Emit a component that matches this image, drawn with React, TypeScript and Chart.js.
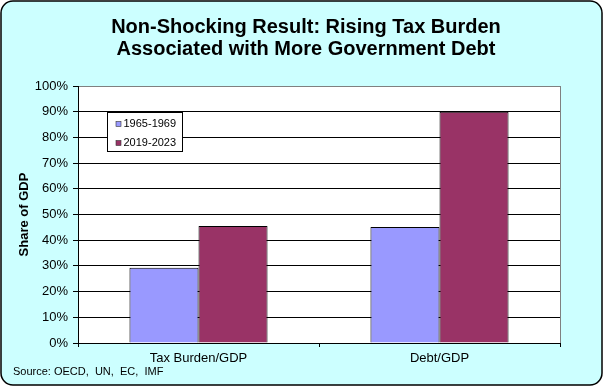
import React, { useEffect, useRef } from "react";
import { Chart, registerables } from "chart.js";

Chart.register(...registerables);

const categories = ["Tax Burden/GDP", "Debt/GDP"];
const seriesLabels = ["1965-1969", "2019-2023"];
const values1965 = [29.3, 45.1];
const values2019 = [45.5, 90];
const titleLines = ["Non-Shocking Result: Rising Tax Burden", "Associated with More Government Debt"];
const yAxisTitle = "Share of GDP";
const sourceText = "Source: OECD,  UN,  EC,  IMF";
const colors = ["#9999FF", "#993366"];

const FONT = "'Liberation Sans', Arial, sans-serif";

const decorPlugin = {
  id: "decor",
  beforeDraw(chart: any) {
    const { ctx, chartArea } = chart;
    const W = chart.width;
    const H = chart.height;
    ctx.save();
    ctx.fillStyle = "#ffffff";
    ctx.fillRect(0, 0, W, H);
    ctx.beginPath();
    ctx.roundRect(1, 1, W - 3, H - 3, 12);
    ctx.fillStyle = "#CCFFFF";
    ctx.fill();
    ctx.lineWidth = 1.5;
    ctx.strokeStyle = "#000000";
    ctx.stroke();
    // plot area
    ctx.fillStyle = "#ffffff";
    ctx.fillRect(chartArea.left, chartArea.top, chartArea.right - chartArea.left, chartArea.bottom - chartArea.top);
    ctx.strokeStyle = "#808080";
    ctx.lineWidth = 1;
    ctx.strokeRect(
      Math.round(chartArea.left) + 0.5,
      Math.round(chartArea.top) + 0.5,
      Math.round(chartArea.right - chartArea.left),
      Math.round(chartArea.bottom - chartArea.top)
    );
    ctx.restore();
  },
  afterDraw(chart: any) {
    const { ctx, chartArea } = chart;
    ctx.save();
    // legend
    const lx = Math.round(chartArea.left + 29) + 0.5;
    const ly = Math.round(chartArea.top + 26) + 0.5;
    const lw = 75;
    const lh = 39;
    ctx.fillStyle = "#ffffff";
    ctx.fillRect(lx, ly, lw, lh);
    ctx.strokeStyle = "#000000";
    ctx.lineWidth = 1;
    ctx.strokeRect(lx, ly, lw, lh);
    ctx.font = `11px ${FONT}`;
    ctx.textBaseline = "middle";
    ctx.textAlign = "left";
    chart.data.datasets.forEach((ds: any, i: number) => {
      const cy = ly + 11.5 + i * 19;
      ctx.fillStyle = ds.backgroundColor;
      ctx.fillRect(lx + 8.5, cy - 2.5, 5, 5);
      ctx.strokeStyle = "#333333";
      ctx.lineWidth = 0.6;
      ctx.strokeRect(lx + 8.5, cy - 2.5, 5, 5);
      ctx.fillStyle = "#000000";
      ctx.fillText(ds.label, lx + 16, cy);
    });
    // source
    ctx.font = `11px ${FONT}`;
    ctx.fillStyle = "#000000";
    ctx.textBaseline = "middle";
    ctx.fillText(sourceText, 13, 372);
    ctx.restore();
  },
};

export default function App() {
  const ref = useRef<HTMLCanvasElement | null>(null);
  useEffect(() => {
    if (!ref.current) return;
    const chart = new Chart(ref.current, {
      type: "bar",
      data: {
        labels: categories,
        datasets: [
          {
            label: seriesLabels[0],
            data: values1965,
            backgroundColor: colors[0],
            borderColor: "#000000",
            borderWidth: 1,
          },
          {
            label: seriesLabels[1],
            data: values2019,
            backgroundColor: colors[1],
            borderColor: "#000000",
            borderWidth: 1,
          },
        ],
      },
      options: {
        responsive: false,
        animation: false,
        devicePixelRatio: 1,
        layout: { padding: { left: 8, right: 0, top: 0, bottom: 0 } },
        datasets: {
          bar: { categoryPercentage: 0.573, barPercentage: 1 },
        } as any,
        plugins: {
          legend: { display: false },
          tooltip: { enabled: false },
          title: {
            display: true,
            text: titleLines,
            color: "#000000",
            font: { family: FONT, size: 20, weight: "bold", lineHeight: 22 / 20 },
            padding: { top: 16.5, bottom: 25.5 },
          },
        },
        scales: {
          x: {
            grid: {
              drawOnChartArea: false,
              drawTicks: true,
              tickLength: 4,
              color: "#000000",
              offset: true,
            },
            border: { display: true, color: "#000000", width: 1 },
            ticks: { color: "#000000", font: { family: FONT, size: 13 }, padding: 4 },
            afterFit: (s: any) => {
              s.height = 44;
            },
          },
          y: {
            min: 0,
            max: 100,
            ticks: {
              stepSize: 10,
              color: "#000000",
              font: { family: FONT, size: 13 },
              padding: 5,
              callback: (v: any) => `${v}%`,
            },
            grid: {
              color: (c: any) => (c.tick && c.tick.value === 100 ? "#808080" : "#000000"),
              tickColor: "#000000",
              tickLength: 5,
              lineWidth: 1,
            },
            border: { display: true, color: "#000000", width: 1 },
            title: {
              display: true,
              text: yAxisTitle,
              color: "#000000",
              font: { family: FONT, size: 13, weight: "bold" },
              padding: { top: 9, bottom: 0 },
            },
            afterFit: (s: any) => {
              s.width = 70;
            },
          },
          yR: {
            type: "linear",
            position: "right",
            display: true,
            grid: { display: false, drawTicks: false },
            border: { display: false },
            ticks: { display: false },
            afterFit: (s: any) => {
              s.width = 44;
            },
          },
        },
      } as any,
      plugins: [decorPlugin],
    });
    return () => chart.destroy();
  }, []);
  return (
    <div style={{ position: "fixed", left: 0, top: 0, width: 604, height: 387 }}>
      <canvas ref={ref} width={604} height={387} style={{ display: "block" }} />
    </div>
  );
}
